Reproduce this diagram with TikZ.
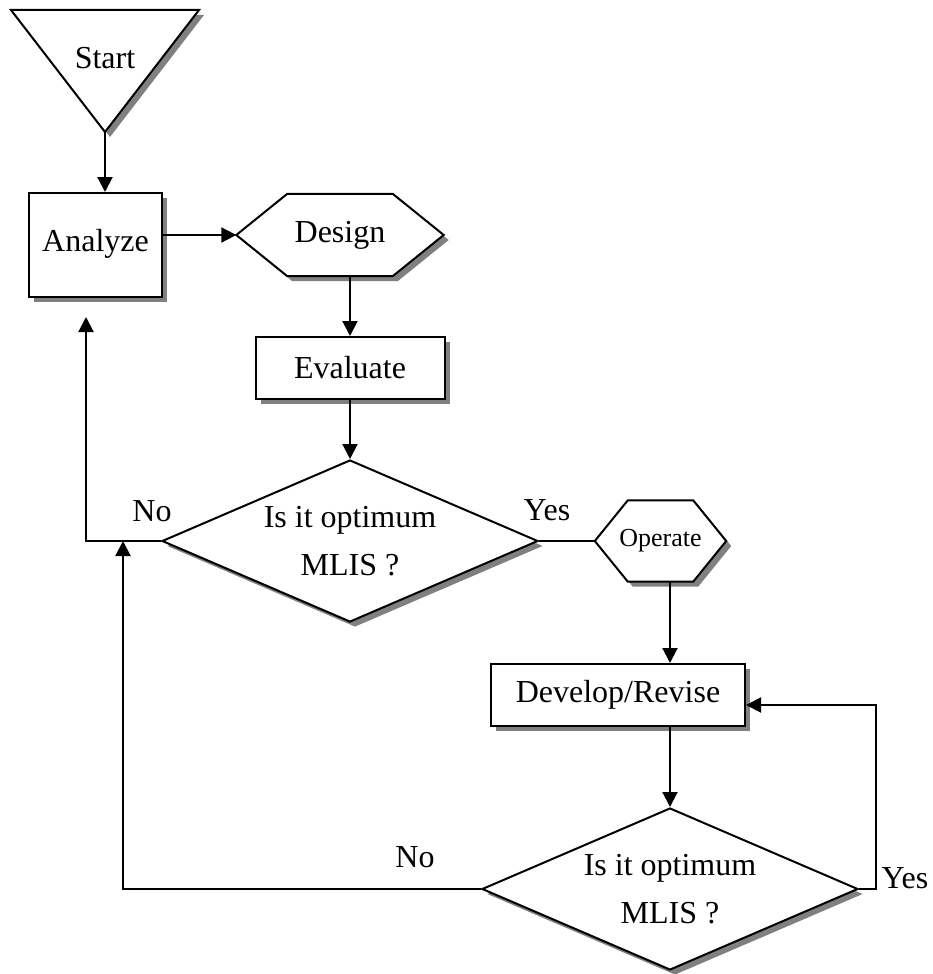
\documentclass[tikz,border=0pt]{standalone}
\usepackage{fontspec}
\setmainfont{Liberation Serif}
\usetikzlibrary{arrows.meta, shapes.geometric, shadows, backgrounds, calc}

\tikzset{
  graysh/.style={drop shadow={shadow xshift=5pt, shadow yshift=-5pt, fill=gray, opacity=1}},
  outline/.style={draw, line width=2pt, fill=white, graysh},
  box/.style={outline, inner sep=0pt},
  decision/.style={diamond, aspect=2.32, outline, inner sep=0pt, minimum width=376pt, minimum height=162pt, align=center},
  hexa/.style={inner sep=0pt},
  flow/.style={line width=2pt, -{Triangle[length=15pt, width=15pt]}},
  plain/.style={line width=2pt}
}

\begin{document}
\begin{tikzpicture}[x=1pt, y=-1pt, font=\fontsize{32}{48}\selectfont]
        \useasboundingbox (0,0) rectangle (933,974);

        \node (start) at (105,58) {Start};
        \coordinate (starttip) at (105,132);
        \node[box, minimum width=133pt, minimum height=104pt] (analyze) at (95.5,245) {\raisebox{9pt}{Analyze}};
        \node[hexa, minimum width=207pt, minimum height=82pt] (design) at (340,235) {Design};
        \node[box, minimum width=189pt, minimum height=62pt] (evaluate) at (350,368) {Evaluate};
        \node[decision] (check1) at (350,541) {Is it optimum\\MLIS ?};
        \node[hexa, minimum width=131pt, minimum height=81pt, font=\fontsize{26}{30}\selectfont] (operate) at (660.5,541) {Operate};
        \node[box, minimum width=254pt, minimum height=62pt] (develop) at (618,695) {Develop/Revise};
        \node[decision] (check2) at (670,889) {Is it optimum\\MLIS ?};

        \begin{scope}[on background layer]
        \draw[outline] (11,10) -- (199,10) -- (starttip) -- cycle;
        \draw[outline] (design.west) -- ([xshift=51pt]design.north west) -- ([xshift=-51pt]design.north east)
            -- (design.east) -- ([xshift=-51pt]design.south east) -- ([xshift=51pt]design.south west) -- cycle;
        \draw[outline] (operate.west) -- ([xshift=33pt]operate.north west) -- ([xshift=-33pt]operate.north east)
            -- (operate.east) -- ([xshift=-33pt]operate.south east) -- ([xshift=33pt]operate.south west) -- cycle;
        \end{scope}

        \coordinate (fbtop) at (86,317);
        \coordinate (rettip) at (123,541);
        \coordinate (loop) at (876,705);

        \draw[flow] (starttip) -- (starttip |- analyze.north);
        \draw[flow] (design.west -| analyze.east) -- (design.west);
        \draw[flow] (evaluate.north |- design.south) -- (evaluate.north);
        \draw[flow] (check1.north |- evaluate.south) -- (check1.north);
        \draw[plain] (check1.east) -- (operate.west);
        \draw[flow] (check1.west) -| (fbtop);
        \draw[flow] (operate.south -| check2.north) -- (develop.north -| check2.north);
        \draw[flow] (develop.south -| check2.north) -- (check2.north);
        \draw[flow] (check2.east) -| (loop) -- (loop -| develop.east);
        \draw[flow] (check2.west) -| (rettip);

        \node (no1) at (152,511) {No};
        \node (yes1) at (547,510) {Yes};
        \node (no2) at (415,857) {No};
        \node (yes2) at (905,878) {Yes};
    \end{tikzpicture}
\end{document}
